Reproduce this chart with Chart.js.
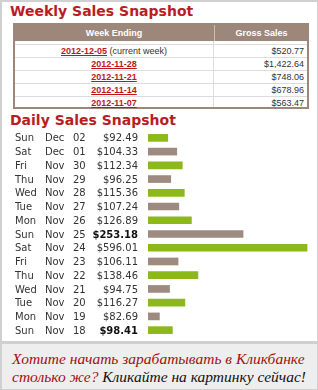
<!DOCTYPE html>
<html>
<head>
<meta charset="utf-8">
<script src="https://cdn.jsdelivr.net/npm/chart.js@4"></script>
<style>
  html, body { margin: 0; padding: 0; }
  body { width: 318px; height: 390px; position: relative; background: #fff; overflow: hidden; font-family: "DejaVu Sans", sans-serif; }
  #frame { position: absolute; left: 0; top: 0; width: 315px; height: 339px; border: 2px solid #d0d0d0; border-bottom: none; }
  .title { position: absolute; left: 10px; font: bold 14px "DejaVu Sans", sans-serif; color: #b91d23; white-space: nowrap; }
  #weekly { position: absolute; left: 13px; top: 23px; width: 292px; height: 82px; border: 2px solid #9c877a; }
  #weekly .head { position: absolute; left: 0; top: 0; width: 292px; height: 16px; background: #9c877a; color: #fff; font: bold 9px "Liberation Sans", sans-serif; line-height: 16px; }
  #weekly .row { position: absolute; left: 0; width: 292px; height: 12px; border-top: 1px solid #dcdcdc; font: 9px "Liberation Sans", sans-serif; line-height: 13px; color: #333; }
  .c1 { position: absolute; left: 0; width: 198px; text-align: center; }
  .c2 { position: absolute; left: 199px; width: 90px; text-align: right; }
  .hc2 { position: absolute; left: 199px; width: 93px; text-align: center; border-left: 1px solid #cbbdb3; height: 16px; }
  .vline { position: absolute; left: 198px; top: 16px; width: 1px; height: 66px; background: #dcdcdc; }
  .date { color: #c0151d; font-weight: bold; text-decoration: underline; }
  #daily { position: absolute; left: 0; top: 131px; }
  #promo { position: absolute; left: 0; top: 341px; width: 315px; height: 45px; background: #eeeeee; border: 2px solid #d0d0d0; border-top: 3px solid #cfcfcf; }
  #promo div { position: absolute; left: 10px; font: italic 15.5px "Liberation Serif", serif; white-space: nowrap; }
  .red { color: #9e1010; }
  .blk { color: #111; }
</style>
</head>
<body>
<div id="frame"></div>
<div class="title" style="top:3px">Weekly Sales Snapshot</div>
<div id="weekly">
  <div class="head"><span class="c1">Week Ending</span><span class="hc2">Gross Sales</span></div>
  <div class="vline"></div>
</div>
<div class="title" style="top:112px">Daily Sales Snapshot</div>
<canvas id="daily" width="318" height="206"></canvas>
<div id="promo">
  <div style="top:6px" class="red">Хотите начать зарабатывать в Кликбанке</div>
  <div style="top:24px"><span class="red">столько же?</span> <span class="blk">Кликайте на картинку сейчас!</span></div>
</div>
<script>
// weekly table
const weekEnding = ['2012-12-05', '2012-11-28', '2012-11-21', '2012-11-14', '2012-11-07'];
const weekNotes = ['(current week)', '', '', '', ''];
const weeklySales = ['$520.77', '$1,422.64', '$748.06', '$678.96', '$563.47'];

// daily bars
const days = ['Sun', 'Sat', 'Fri', 'Thu', 'Wed', 'Tue', 'Mon', 'Sun', 'Sat', 'Fri', 'Thu', 'Wed', 'Tue', 'Mon', 'Sun'];
const months = ['Dec', 'Dec', 'Nov', 'Nov', 'Nov', 'Nov', 'Nov', 'Nov', 'Nov', 'Nov', 'Nov', 'Nov', 'Nov', 'Nov', 'Nov'];
const dates = ['02', '01', '30', '29', '28', '27', '26', '25', '24', '23', '22', '21', '20', '19', '18'];
const dailySales = [92.49, 104.33, 112.34, 96.25, 115.36, 107.24, 126.89, 253.18, 596.01, 106.11, 138.46, 94.75, 116.27, 82.69, 98.41];

const boldRows = [7, 14];
const green = '#8db81b';
const brown = '#9d8b81';

const weekly = document.getElementById('weekly');
weekEnding.forEach(function(d, i) {
    const row = document.createElement('div');
    row.className = 'row';
    row.style.top = (19 + i * 13) + 'px';
    const note = weekNotes[i] ? ' ' + weekNotes[i] : '';
    row.innerHTML = '<span class="c1"><span class="date">' + d + '</span>' + note + '</span>' +
        '<span class="c2">' + weeklySales[i] + '</span>';
    weekly.appendChild(row);
});

const rowLabels = {
    id: 'rowLabels',
    afterDatasetsDraw(chart) {
        const ctx = chart.ctx;
        const y = chart.scales.y;
        ctx.save();
        ctx.fillStyle = '#333';
        ctx.textBaseline = 'middle';
        dailySales.forEach(function(v, i) {
            const py = y.getPixelForValue(i) + 1;
            ctx.font = '10px "DejaVu Sans", sans-serif';
            ctx.textAlign = 'left';
            ctx.fillText(days[i], 15, py);
            ctx.fillText(months[i], 45, py);
            ctx.fillText(dates[i], 73, py);
            ctx.textAlign = 'right';
            if (boldRows.includes(i)) {
                ctx.font = 'bold 10px "DejaVu Sans", sans-serif';
                ctx.fillStyle = '#111';
            }
            ctx.fillText('$' + v.toFixed(2), 138, py);
            ctx.fillStyle = '#333';
        });
        ctx.restore();
    }
};

new Chart(document.getElementById('daily'), {
    type: 'bar',
    data: {
        labels: dailySales.map(function(v, i) { return i; }),
        datasets: [{
            data: dailySales,
            backgroundColor: dailySales.map(function(v, i) { return i % 2 === 0 ? green : brown; }),
            barThickness: 7,
            borderWidth: 0
        }]
    },
    options: {
        indexAxis: 'y',
        responsive: false,
        animation: false,
        layout: { padding: { left: 148, right: 8, top: 0, bottom: 0 } },
        plugins: { legend: { display: false }, tooltip: { enabled: false } },
        scales: {
            x: { type: 'logarithmic', min: 71, max: 620, display: false },
            y: { display: false, offset: true }
        }
    },
    plugins: [rowLabels]
});
</script>
</body>
</html>
